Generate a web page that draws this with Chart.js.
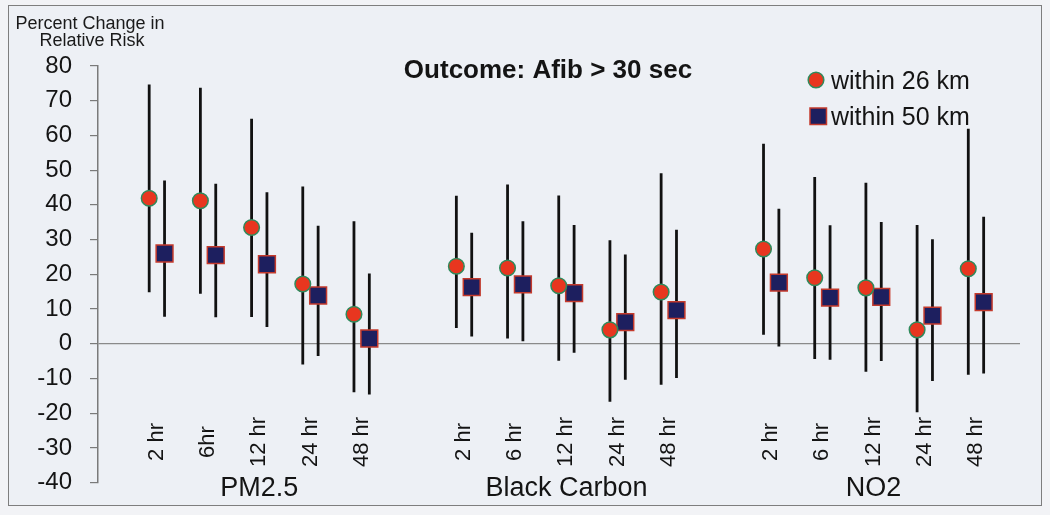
<!DOCTYPE html>
<html>
<head>
<meta charset="utf-8">
<script src="https://cdn.jsdelivr.net/npm/chart.js@4.4.1/dist/chart.umd.min.js"></script>
<style>
  html, body { margin: 0; padding: 0; background: #f2f3f6; }
  #wrap { position: relative; width: 1050px; height: 515px; }
  #frame { position: absolute; left: 8px; top: 5px; width: 1032px; height: 499px;
           border: 1.5px solid #7e7e7e; background: #edf0f5; }
  canvas { position: absolute; left: 0; top: 0; }
</style>
</head>
<body>
<div id="wrap">
  <div id="frame"></div>
  <canvas id="c" width="1050" height="515"></canvas>
</div>
<script>
// ---- data ----
const groups = ['PM2.5', 'Black Carbon', 'NO2'];
const tickLabels = ['2 hr', '6hr', '12 hr', '24 hr', '48 hr', '',
                    '2 hr', '6 hr', '12 hr', '24 hr', '48 hr', '',
                    '2 hr', '6 hr', '12 hr', '24 hr', '48 hr'];
const seriesNames = ['within 26 km', 'within 50 km'];

const est26 = [41.9, 41.2, 33.5, 17.2, 8.5,  22.3, 21.8, 16.7, 4.0, 14.9,  27.3, 19.0, 16.1, 4.0, 21.6];
const lo26  = [14.8, 14.4, 7.7, -6.0, -14.0,  4.5, 1.5, -4.9, -16.7, -11.8,  2.6, -4.4, -8.1, -19.7, -8.9];
const hi26  = [74.7, 73.7, 64.8, 45.3, 35.3,  42.6, 45.9, 42.7, 29.8, 49.1,  57.6, 48.0, 46.4, 34.2, 61.9];

const est50 = [26.0, 25.5, 22.9, 13.9, 1.5,  16.3, 17.1, 14.6, 6.2, 9.7,  17.6, 13.3, 13.5, 8.1, 12.0];
const lo50  = [7.8, 7.6, 4.8, -3.5, -14.6,  2.1, 0.7, -2.6, -10.4, -9.9,  -0.8, -4.6, -5.0, -10.7, -8.6];
const hi50  = [47.0, 46.1, 43.6, 34.0, 20.2,  32.0, 35.3, 34.2, 25.7, 32.8,  38.9, 34.1, 35.1, 30.1, 36.6];

const yTicks = [80, 70, 60, 50, 40, 30, 20, 10, 0, -10, -20, -30, -40];

// ---- build positions from category slots ----
const slots = tickLabels.map((l, i) => i).filter(i => tickLabels[i] !== '');
const groupCenters = groups.map((g, k) => (slots[k * 5] + slots[k * 5 + 4]) / 2);
const OFF = 0.15;

function points(est, off) {
  return est.map((v, i) => ({ x: slots[i] + off, y: v }));
}
function bars(lo, hi, off) {
  const d = [];
  lo.forEach((v, i) => {
    d.push({ x: slots[i] + off, y: v });
    d.push({ x: slots[i] + off, y: hi[i] });
    d.push({ x: slots[i] + off, y: null });
  });
  return d;
}

const RED = '#e8361f', GREEN = '#2f8a5c', NAVY = '#1d1f5f', SQBORDER = '#c43a2c';
const FONT = "'Liberation Sans', Arial, Helvetica, sans-serif";

const overlay = {
  id: 'overlay',
  beforeDraw(chart) {
    // center the rotated tick labels vertically (as in the reference)
    try {
      const sx = chart.scales.x;
      const items = sx.getLabelItems(chart.chartArea);
      items.forEach(it => {
        it.options.textAlign = 'center';
        it.options.translation[1] = 442;
      });
    } catch (e) {}
  },
  afterDraw(chart) {
    const ctx = chart.ctx;
    ctx.save();
    ctx.fillStyle = '#141414';
    // title
    ctx.font = "bold 26px " + FONT;
    ctx.textAlign = 'center';
    ctx.textBaseline = 'alphabetic';
    ctx.fillText('Outcome: Afib > 30 sec', 548, 78);
    // y-axis title
    ctx.font = "18px " + FONT;
    ctx.fillStyle = '#1a1a1a';
    ctx.fillText('Percent Change in', 90, 29);
    ctx.fillText('Relative Risk', 92, 46);
    // legend
    ctx.textAlign = 'left';
    ctx.font = "25px " + FONT;
    ctx.beginPath();
    ctx.arc(816, 80, 7.8, 0, Math.PI * 2);
    ctx.fillStyle = RED; ctx.fill();
    ctx.lineWidth = 1.5; ctx.strokeStyle = GREEN; ctx.stroke();
    ctx.fillStyle = '#141414';
    ctx.fillText(seriesNames[0], 831, 89);
    ctx.beginPath();
    ctx.rect(810, 108, 16.5, 16.5);
    ctx.fillStyle = NAVY; ctx.fill();
    ctx.lineWidth = 1.5; ctx.strokeStyle = SQBORDER; ctx.stroke();
    ctx.fillStyle = '#141414';
    ctx.fillText(seriesNames[1], 831, 125);
    ctx.restore();
  }
};

const XMIN = -1.15, XMAX = 16.86;

new Chart(document.getElementById('c'), {
  type: 'scatter',
  data: {
    datasets: [
      { label: seriesNames[0] + ' CI', type: 'line', data: bars(lo26, hi26, -OFF),
        borderColor: '#111', borderWidth: 2.8, pointRadius: 0, spanGaps: false, order: 3, fill: false },
      { label: seriesNames[1] + ' CI', type: 'line', data: bars(lo50, hi50, OFF),
        borderColor: '#111', borderWidth: 2.8, pointRadius: 0, spanGaps: false, order: 3, fill: false },
      { label: seriesNames[0], data: points(est26, -OFF), pointStyle: 'circle', pointRadius: 7.8,
        pointHoverRadius: 7.8, backgroundColor: RED, borderColor: GREEN, borderWidth: 1.5, order: 1 },
      { label: seriesNames[1], data: points(est50, OFF), pointStyle: 'rect', pointRadius: 11.9,
        pointHoverRadius: 11.9, backgroundColor: NAVY, borderColor: SQBORDER, borderWidth: 1.5, order: 1 }
    ]
  },
  options: {
    responsive: false,
    animation: false,
    events: [],
    layout: { padding: { left: 0, right: 30, top: 66, bottom: 32 } },
    plugins: { legend: { display: false }, tooltip: { enabled: false }, title: { display: false } },
    scales: {
      y: {
        type: 'linear', position: 'left', min: -40, max: 80,
        afterBuildTicks: s => { s.ticks = yTicks.map(v => ({ value: v })); },
        afterFit: s => { s.width = 98; },
        ticks: { font: { family: FONT, size: 24 }, color: '#141414', padding: 18 },
        grid: {
          color: c => (c.tick && c.tick.value === 0) ? '#8a8a8a' : 'rgba(0,0,0,0)',
          tickColor: '#7a7a7a', tickLength: 8, lineWidth: 1.2, drawOnChartArea: true
        },
        border: { display: true, color: '#7a7a7a', width: 1.5 }
      },
      x: {
        type: 'linear', min: XMIN, max: XMAX, position: { y: -40 },
        afterBuildTicks: s => { s.ticks = slots.map(v => ({ value: v })); },
        afterFit: s => { s.height = 0; },
        ticks: { callback: v => tickLabels[v], autoSkip: false, maxRotation: 90, minRotation: 90,
                 font: { family: FONT, size: 22 }, color: '#141414', padding: 0 },
        grid: { display: false, drawTicks: false },
        border: { display: false }
      },
      xg: {
        type: 'linear', axis: 'x', min: XMIN, max: XMAX, position: { y: -40 },
        afterBuildTicks: s => { s.ticks = groupCenters.map(v => ({ value: v })); },
        afterFit: s => { s.height = 0; },
        ticks: { callback: (v, i) => groups[i], autoSkip: false, maxRotation: 0, minRotation: 0,
                 font: { family: FONT, size: 27, lineHeight: 1 }, color: '#141414', padding: -8 },
        grid: { display: false, drawTicks: false },
        border: { display: false }
      }
    }
  },
  plugins: [overlay]
});
</script>
</body>
</html>
